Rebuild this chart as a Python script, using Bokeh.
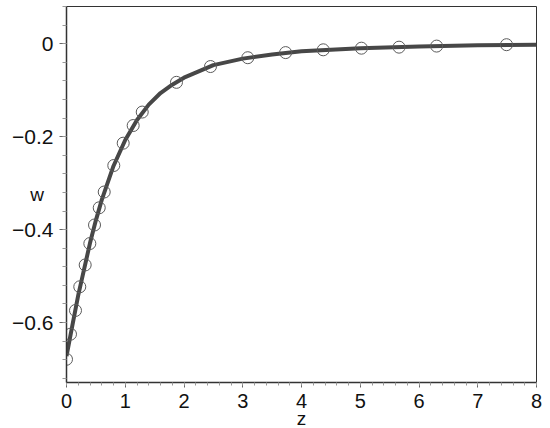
from bokeh.plotting import figure
from bokeh.models import Range1d, FixedTicker
from bokeh.embed import file_html
from bokeh.resources import INLINE

# Sample points (circles)
z_pts = [0.0, 0.068, 0.153, 0.226, 0.318, 0.397, 0.477, 0.557, 0.642, 0.805,
         0.965, 1.135, 1.289, 1.872, 2.451, 3.086, 3.73, 4.37, 5.02, 5.66, 6.30, 7.49]
w_pts = [-0.679, -0.625, -0.574, -0.523, -0.476, -0.430, -0.390, -0.353, -0.319, -0.262,
         -0.214, -0.176, -0.147, -0.083, -0.049, -0.030, -0.019, -0.013, -0.0095, -0.0073,
         -0.005, -0.002]

# Curve
z_line = [0.0, 0.1, 0.2, 0.3, 0.4, 0.5, 0.6, 0.8, 1.0, 1.2, 1.4, 1.6, 1.8, 2.0,
          2.5, 3.0, 3.5, 4.0, 5.0, 6.0, 7.0, 8.0]
w_line = [-0.672, -0.606, -0.541, -0.485, -0.429, -0.380, -0.336, -0.263, -0.207,
          -0.164, -0.131, -0.106, -0.088, -0.073, -0.046, -0.032, -0.023, -0.016,
          -0.0095, -0.006, -0.003, -0.002]

x_ticks = [0, 1, 2, 3, 4, 5, 6, 7, 8]
x_labels = ["0", "1", "2", "3", "4", "5", "6", "7", "8"]
y_ticks = [-0.6, -0.4, -0.2, 0]
y_labels = ["\u22120.6", "\u22120.4", "\u22120.2", "0"]

FONT = "Liberation Sans"

p = figure(frame_width=470, frame_height=376,
           x_range=Range1d(0, 8), y_range=Range1d(-0.729, 0.0802),
           output_backend="svg", toolbar_location=None,
           min_border_left=66, min_border_right=10, min_border_top=6, min_border_bottom=42)

p.background_fill_color = "white"
p.border_fill_color = "white"
p.outline_line_color = "#333333"
p.outline_line_width = 1
p.xgrid.visible = False
p.ygrid.visible = False

p.line(z_line, w_line, line_color="#474747", line_width=4)
p.scatter(z_pts, w_pts, marker="circle", size=12, fill_color=None,
          line_color="#5a5a5a", line_width=1)

xa = p.xaxis[0]
xa.ticker = FixedTicker(ticks=x_ticks,
                        minor_ticks=[i * 0.2 for i in range(41)])
xa.major_label_overrides = {t: l for t, l in zip(x_ticks, x_labels)}
xa.axis_line_color = "#333333"
xa.axis_line_width = 1.5
xa.major_tick_in = 0
xa.major_tick_out = 5
xa.minor_tick_in = 0
xa.minor_tick_out = 3
xa.major_tick_line_color = "#666666"
xa.minor_tick_line_color = "#999999"
xa.major_label_standoff = 6
xa.major_label_text_font = FONT
xa.major_label_text_font_size = "20px"
xa.major_label_text_color = "#111111"
xa.axis_label = "z"
xa.axis_label_text_font = FONT
xa.axis_label_text_font_size = "19px"
xa.axis_label_text_font_style = "normal"
xa.axis_label_text_color = "#111111"
xa.axis_label_standoff = -3

ya = p.yaxis[0]
ya.ticker = FixedTicker(ticks=y_ticks,
                        minor_ticks=[-0.72 + i * 0.04 for i in range(21)])
ya.major_label_overrides = {t: l for t, l in zip(y_ticks, y_labels)}
ya.axis_line_color = "#333333"
ya.axis_line_width = 1.5
ya.major_tick_in = 0
ya.major_tick_out = 7
ya.minor_tick_in = 0
ya.minor_tick_out = 4
ya.major_tick_line_color = "#666666"
ya.minor_tick_line_color = "#999999"
ya.major_label_standoff = 6
ya.major_label_text_font = FONT
ya.major_label_text_font_size = "21px"
ya.major_label_text_color = "#111111"
ya.axis_label = "w"
ya.axis_label_orientation = "horizontal"
ya.axis_label_text_font = FONT
ya.axis_label_text_font_size = "19px"
ya.axis_label_text_font_style = "normal"
ya.axis_label_text_color = "#111111"
ya.axis_label_standoff = -35

open("out.html", "w").write(file_html(p, INLINE))
